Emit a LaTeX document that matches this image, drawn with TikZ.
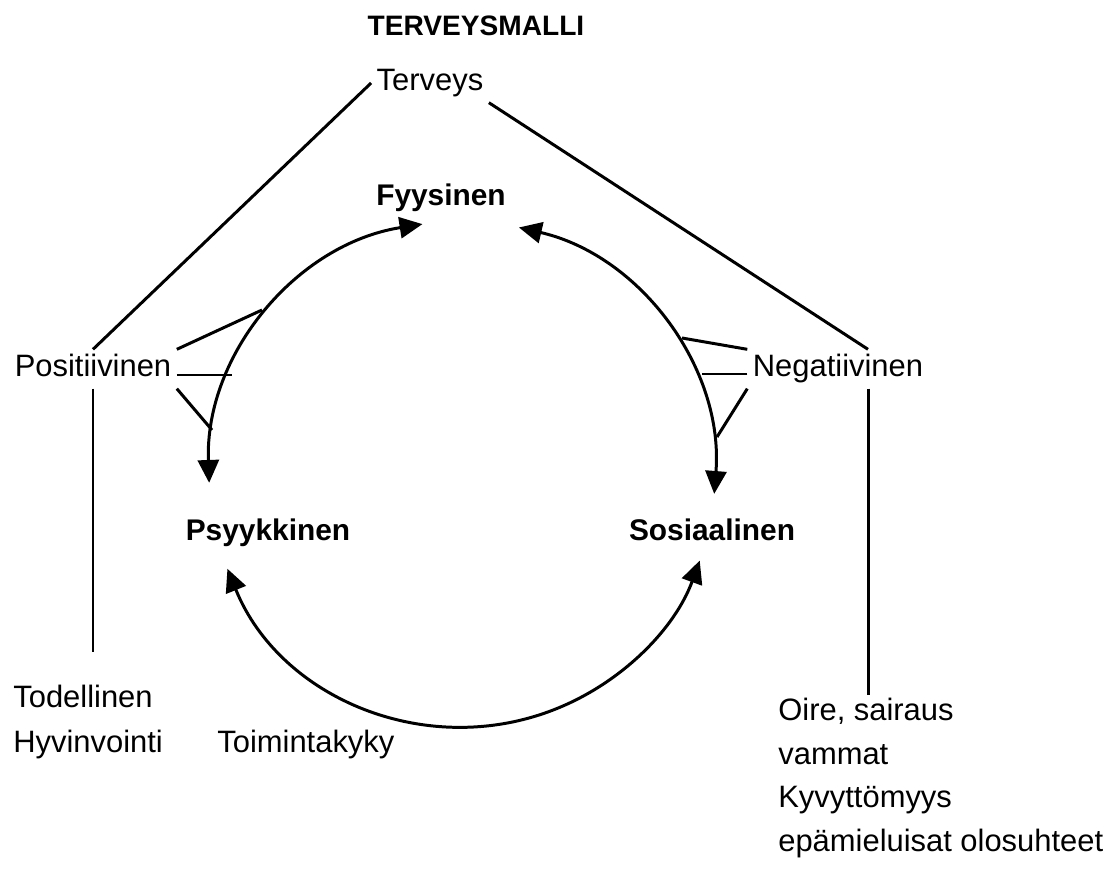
\documentclass[tikz,border=0pt]{standalone}
\usepackage{fontspec}
\setmainfont{Liberation Sans}
\usetikzlibrary{arrows.meta}
\tikzstyle{word}=[font=\fontsize{17.6}{20}\selectfont,inner sep=3pt,text height=12.5pt,text depth=3.5pt]
\tikzstyle{heading}=[font=\fontsize{17}{20}\selectfont\bfseries,inner sep=3pt,text height=12.5pt,text depth=3.5pt]
\tikzstyle{listitem}=[font=\fontsize{17.6}{20}\selectfont,anchor=west,inner sep=0pt,text height=12.5pt,text depth=3.5pt]
\tikzstyle{link} = [draw,line width=1.7pt]
\tikzstyle{twoway} = [draw,line width=1.7pt,{Triangle[length=13pt,width=12pt]}-{Triangle[length=13pt,width=12pt]}]

\begin{document}
\begin{tikzpicture}[x=0.02cm,y=-0.02cm]
				\useasboundingbox (0,0) rectangle (1113,892);

				% First we draw the words
				\node[heading,font=\fontsize{16}{19}\selectfont\bfseries] (title) at (476,28) {TERVEYSMALLI};
				\foreach \pos/\name/\text in {{(430,83)/terveys/Terveys}, {(93,369)/pos/Positiivinen},
										{(838,369)/neg/Negatiivinen}}
				\node[word] (\name) at \pos {\text};
				\foreach \pos/\name/\text in {{(441,198)/fyys/Fyysinen}, {(268,533)/psyk/Psyykkinen},
										{(712,533)/sos/Sosiaalinen}}
				\node[heading] (\name) at \pos {\text};

				% Then the lists under both sides
				\foreach \pos/\name/\text in {{(13,700)/tod/Todellinen}, {(13,745)/hyv/Hyvinvointi}, {(217,745)/toim/Toimintakyky},
										{(778,713)/oire/{Oire, sairaus}}, {(778,757)/vam/vammat}, {(778,800)/kyv/Kyvyttömyys},
										{(778,844)/epa/epämieluisat olosuhteet}}
				\node[listitem] (\name) at \pos {\text};

				% Points on the circle and ends of the lines
				\coordinate (mid) at (462,474);
				\coordinate (posend) at (93,652);
				\coordinate (negend) at (868,695);
				\foreach \pos/\name in {{(262,310)/pa}, {(232,375)/pb}, {(212,430)/pc},
										{(682,338)/na}, {(702,374)/nb}, {(717,437)/nc}}
				\path \pos coordinate (\name);

				% The circle of three arcs
				\draw[twoway] ([shift={(-99:253)}]mid) arc (-99:-182:253);
				\draw[twoway] ([shift={(-77:253)}]mid) arc (-77:4.5:253);
				\draw[twoway] ([shift={(158:253)}]mid) arc (158:20:253);

				% Connect the words with lines
				\path[link] (terveys.west) -- (pos.north);
				\path[link] (terveys.south east) -- (neg.north -| negend);
				\path[link] (pos.south) -- (posend);
				\path[link] (neg.south -| negend) -- (negend);

				\foreach \from/\to in {pos.north east/pa, pos.south east/pc, neg.north west/na, neg.south west/nc}
				\path[link] (\from) -- (\to);
				\path[link] (pos.east |- pb) -- (pb);
				\path[link] (neg.west |- nb) -- (nb);

			\end{tikzpicture}
\end{document}
